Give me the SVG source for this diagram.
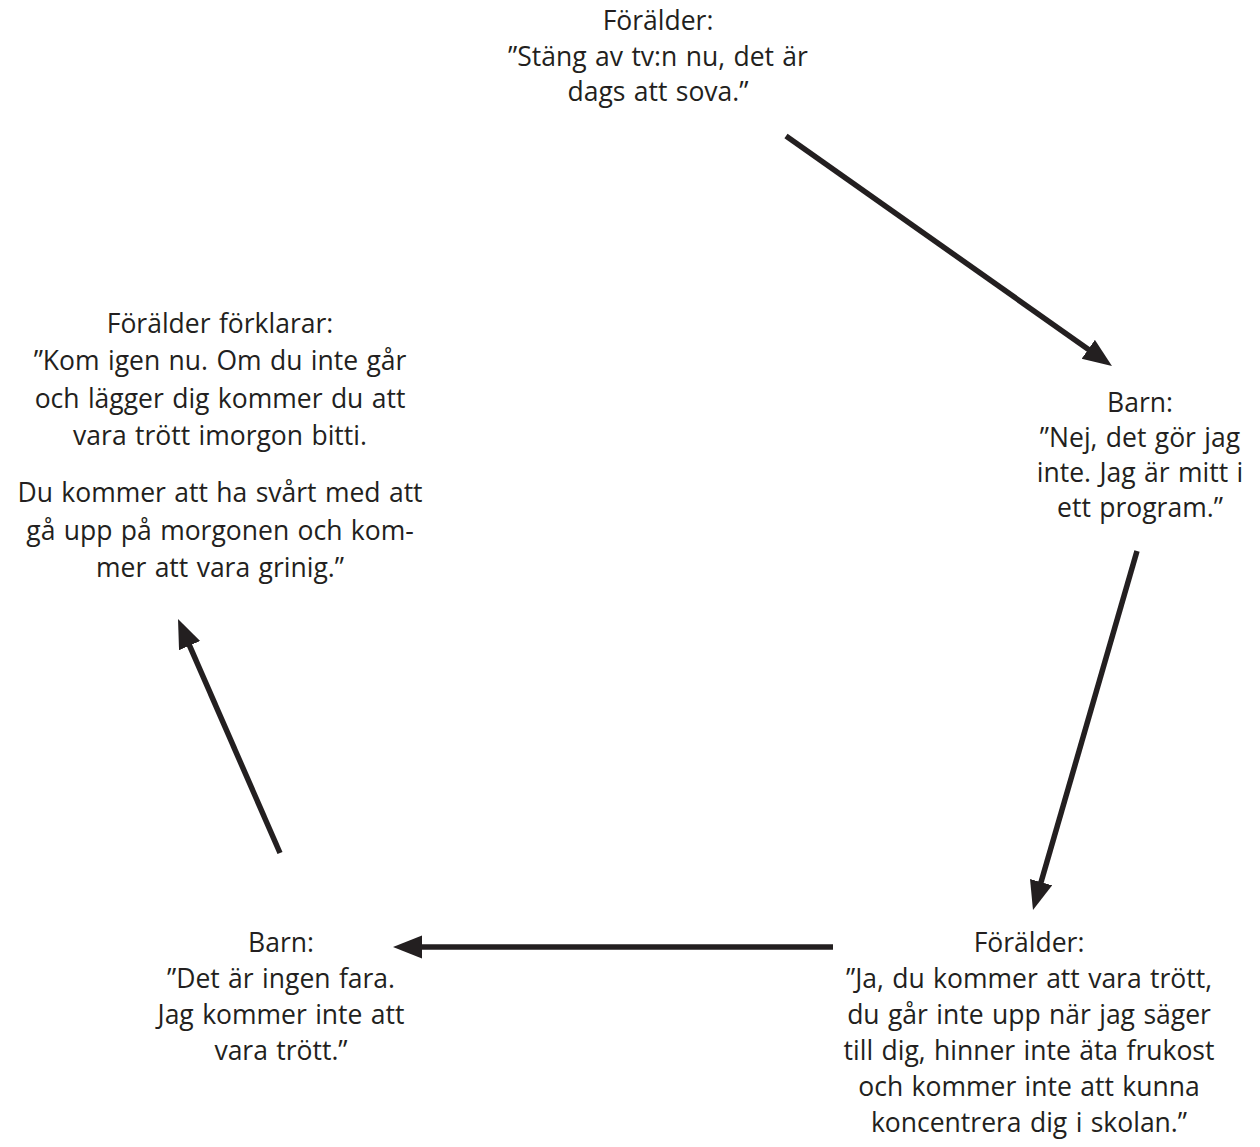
<svg xmlns="http://www.w3.org/2000/svg" width="1260" height="1147" viewBox="0 0 1260 1147">
<defs>
<style>
text{font-family:"Open Sans","Noto Sans","Liberation Sans",sans-serif;font-size:26.5px;word-spacing:1.5px;fill:#231f20;text-anchor:middle}
.c{stroke:#231f20;stroke-width:5.5;fill:none}
</style>
<marker id="ah" markerUnits="userSpaceOnUse" markerWidth="32" markerHeight="26" refX="2" refY="11.5" orient="auto">
<path d="M0,0 L29,11.5 L0,23 Z" fill="#231f20"/>
</marker>
</defs>
<rect width="1260" height="1147" fill="#fff"/>
<g id="connectors">
<line class="c" x1="786" y1="136" x2="1089.9" y2="350.4" marker-end="url(#ah)"/>
<line class="c" x1="1137" y1="551" x2="1040.5" y2="884.1" marker-end="url(#ah)"/>
<line class="c" x1="833" y1="947" x2="420" y2="947" marker-end="url(#ah)"/>
<line class="c" x1="280" y1="853" x2="188.8" y2="643.8" marker-end="url(#ah)"/>
</g>
<g id="n1"><text x="658" y="30">Förälder:</text><text x="658" y="66">”Stäng av tv:n nu, det är</text><text x="658" y="101">dags att sova.”</text></g>
<g id="n2"><text x="1140" y="412">Barn:</text><text x="1140" y="447">”Nej, det gör jag</text><text x="1140" y="482">inte. Jag är mitt i</text><text x="1140" y="517">ett program.”</text></g>
<g id="n3"><text x="1029" y="952">Förälder:</text><text x="1029" y="988">”Ja, du kommer att vara trött,</text><text x="1029" y="1024">du går inte upp när jag säger</text><text x="1029" y="1060">till dig, hinner inte äta frukost</text><text x="1029" y="1096">och kommer inte att kunna</text><text x="1029" y="1132">koncentrera dig i skolan.”</text></g>
<g id="n4"><text x="281" y="952">Barn:</text><text x="281" y="988">”Det är ingen fara.</text><text x="281" y="1024">Jag kommer inte att</text><text x="281" y="1060">vara trött.”</text></g>
<g id="n5"><text x="220" y="333">Förälder förklarar:</text><text x="220" y="370">”Kom igen nu. Om du inte går</text><text x="220" y="408">och lägger dig kommer du att</text><text x="220" y="445">vara trött imorgon bitti.</text><text x="220" y="502">Du kommer att ha svårt med att</text><text x="220" y="540">gå upp på morgonen och kom-</text><text x="220" y="577">mer att vara grinig.”</text></g>
</svg>
